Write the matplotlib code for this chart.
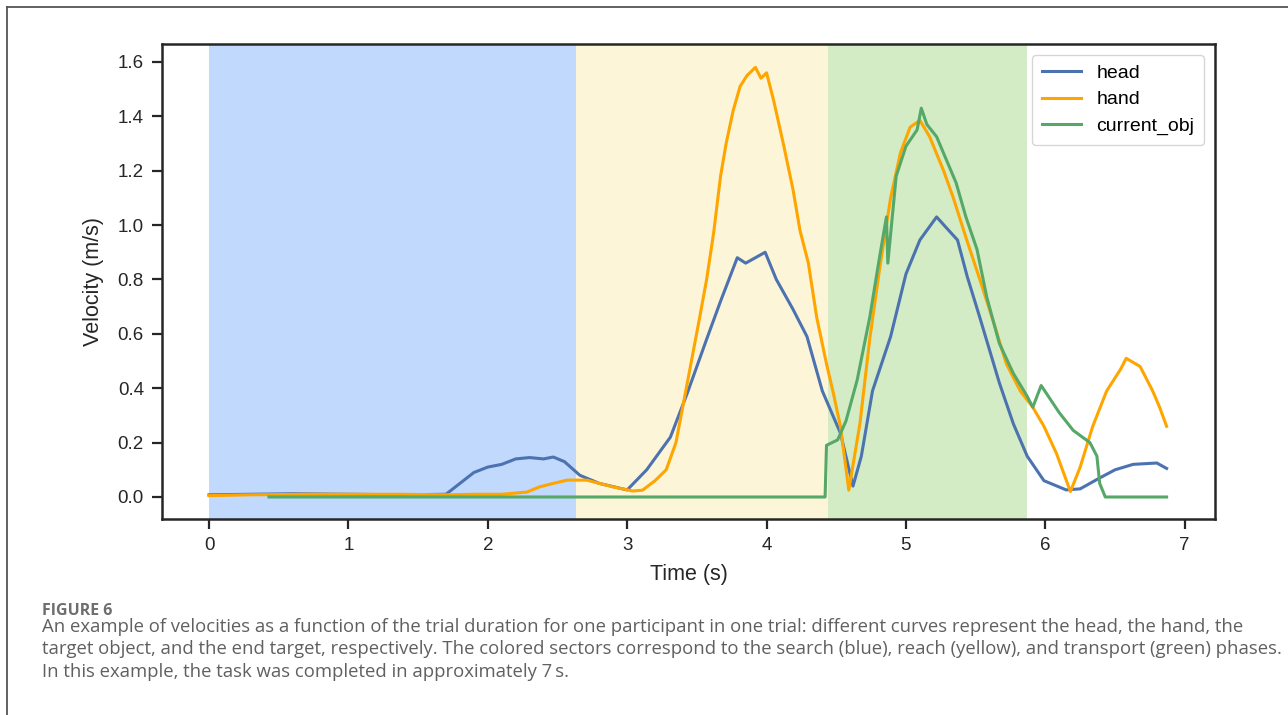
import numpy as np
import matplotlib.pyplot as plt
from matplotlib.lines import Line2D

# --- data ---
head_t = [0.0, 0.3, 0.6, 1.0, 1.4, 1.7, 1.8, 1.9, 2.0, 2.1, 2.2, 2.3, 2.4, 2.47, 2.55, 2.66,
          2.8, 3.0, 3.14, 3.31, 3.43, 3.57, 3.67, 3.79, 3.85, 3.92, 3.99, 4.07, 4.19, 4.29,
          4.40, 4.53, 4.62, 4.68, 4.76, 4.89, 5.00, 5.10, 5.22, 5.29, 5.37, 5.44, 5.53,
          5.67, 5.77, 5.87, 5.99, 6.15, 6.25, 6.39, 6.50, 6.63, 6.80, 6.87]
head_v = [0.008, 0.01, 0.012, 0.01, 0.008, 0.01, 0.05, 0.09, 0.11, 0.12, 0.14, 0.145, 0.14, 0.147, 0.13, 0.08,
          0.05, 0.026, 0.10, 0.22, 0.38, 0.58, 0.72, 0.88, 0.86, 0.88, 0.90, 0.80, 0.69, 0.59,
          0.39, 0.235, 0.04, 0.15, 0.39, 0.59, 0.82, 0.945, 1.03, 0.99, 0.945, 0.81, 0.66,
          0.42, 0.27, 0.15, 0.06, 0.026, 0.03, 0.07, 0.10, 0.12, 0.125, 0.105]

hand_t = [0.0, 0.3, 0.7, 1.0, 1.37, 1.7, 1.9, 2.1, 2.28, 2.37, 2.47, 2.57, 2.71, 2.80, 2.90,
          3.04, 3.11, 3.20, 3.28, 3.35, 3.45, 3.52, 3.57, 3.62, 3.67, 3.71, 3.76, 3.81, 3.86,
          3.92, 3.96, 4.0, 4.05, 4.12, 4.19, 4.24, 4.30, 4.36, 4.43, 4.48, 4.53, 4.59, 4.67,
          4.74, 4.81, 4.89, 4.96, 5.03, 5.10, 5.17, 5.27, 5.34, 5.43, 5.53, 5.63, 5.72, 5.82,
          5.91, 5.99, 6.08, 6.18, 6.25, 6.34, 6.44, 6.54, 6.58, 6.68, 6.77, 6.82, 6.87]
hand_v = [0.005, 0.008, 0.01, 0.01, 0.01, 0.008, 0.01, 0.01, 0.018, 0.037, 0.05, 0.062, 0.062, 0.05, 0.037,
          0.022, 0.025, 0.06, 0.10, 0.20, 0.47, 0.66, 0.80, 0.97, 1.18, 1.30, 1.42, 1.51, 1.55,
          1.58, 1.54, 1.56, 1.46, 1.30, 1.13, 0.98, 0.86, 0.66, 0.49, 0.38, 0.26, 0.025, 0.27,
          0.58, 0.835, 1.10, 1.265, 1.36, 1.385, 1.325, 1.20, 1.10, 0.955, 0.80, 0.64, 0.49, 0.39,
          0.33, 0.26, 0.16, 0.02, 0.11, 0.26, 0.39, 0.47, 0.51, 0.48, 0.39, 0.33, 0.26]

obj_t = [0.43, 4.42, 4.43, 4.51, 4.57, 4.65, 4.74, 4.81, 4.86, 4.87, 4.93, 5.00, 5.08, 5.11,
         5.15, 5.22, 5.29, 5.36, 5.43, 5.51, 5.58, 5.67, 5.77, 5.87, 5.91, 5.97, 6.10, 6.20,
         6.32, 6.37, 6.39, 6.43, 6.87]
obj_v = [0.0, 0.0, 0.19, 0.21, 0.28, 0.43, 0.66, 0.88, 1.03, 0.86, 1.18, 1.29, 1.35, 1.43,
         1.37, 1.325, 1.24, 1.155, 1.03, 0.91, 0.735, 0.565, 0.455, 0.37, 0.33, 0.41, 0.31, 0.245,
         0.20, 0.15, 0.05, 0.0, 0.0]

# phase boundaries (s): search, reach, transport
phase_edges = [0.0, 2.63, 4.44, 5.87]
phase_colors = ['#c0d9fc', '#fdf5d7', '#d3ecc5']

caption_lines = [
    "An example of velocities as a function of the trial duration for one participant in one trial: different curves represent the head, the hand, the",
    "target object, and the end target, respectively. The colored sectors correspond to the search (blue), reach (yellow), and transport (green) phases.",
    "In this example, the task was completed in approximately 7\u2009s.",
]

plt.rcParams['font.family'] = ['Liberation Sans', 'DejaVu Sans']

fig = plt.figure(figsize=(12.88, 7.15), dpi=100)
ax = fig.add_axes([0.1258, 0.2741, 0.8175, 0.6644])

for i in range(3):
    ax.axvspan(phase_edges[i], phase_edges[i + 1], color=phase_colors[i], lw=0, zorder=0)

ax.plot(head_t, head_v, color='#4c72b0', lw=2.2, label='head')
ax.plot(hand_t, hand_v, color='#ffa500', lw=2.2, label='hand')
ax.plot(obj_t, obj_v, color='#55a868', lw=2.2, label='current_obj')

ax.set_xlim(-0.337, 7.217)
ax.set_ylim(-0.081, 1.666)
ax.set_xticks(range(8))
ax.set_yticks(np.arange(0, 1.61, 0.2))
ax.yaxis.set_major_formatter(plt.FormatStrFormatter('%.1f'))
ax.tick_params(labelsize=13.5, length=7, width=1.6, color='#262626', labelcolor='#262626', pad=6)
for s in ax.spines.values():
    s.set_linewidth(1.8)
    s.set_color('#262626')
ax.set_xlabel('Time (s)', fontsize=15.5, color='#262626', labelpad=7)
ax.set_ylabel('Velocity (m/s)', fontsize=15.5, color='#262626', labelpad=10)

leg = ax.legend(loc='upper right', fontsize=14, frameon=True, fancybox=True,
                borderpad=0.5, handlelength=2.0, labelspacing=0.45, borderaxespad=0.55)
leg.get_frame().set_edgecolor('#cccccc')
leg.get_frame().set_linewidth(1.0)

# page frame
fig.add_artist(Line2D([7 / 1288, 1], [1 - 7 / 715, 1 - 7 / 715], color='#555555', lw=1.3))
fig.add_artist(Line2D([7 / 1288, 7 / 1288], [0, 1 - 7 / 715], color='#555555', lw=1.3))

fig.text(42 / 1288, 1 - 615 / 715, 'FIGURE 6', fontsize=11.5, fontweight='bold',
         color='#6e6e6e', family=['Open Sans', 'DejaVu Sans'], va='baseline')
for k, line in enumerate(caption_lines):
    fig.text(42 / 1288, 1 - (632 + 22.5 * k) / 715, line, fontsize=13.35, color='#606060',
             family=['Open Sans', 'DejaVu Sans'], va='baseline')

fig.savefig('out.png', dpi=100)
